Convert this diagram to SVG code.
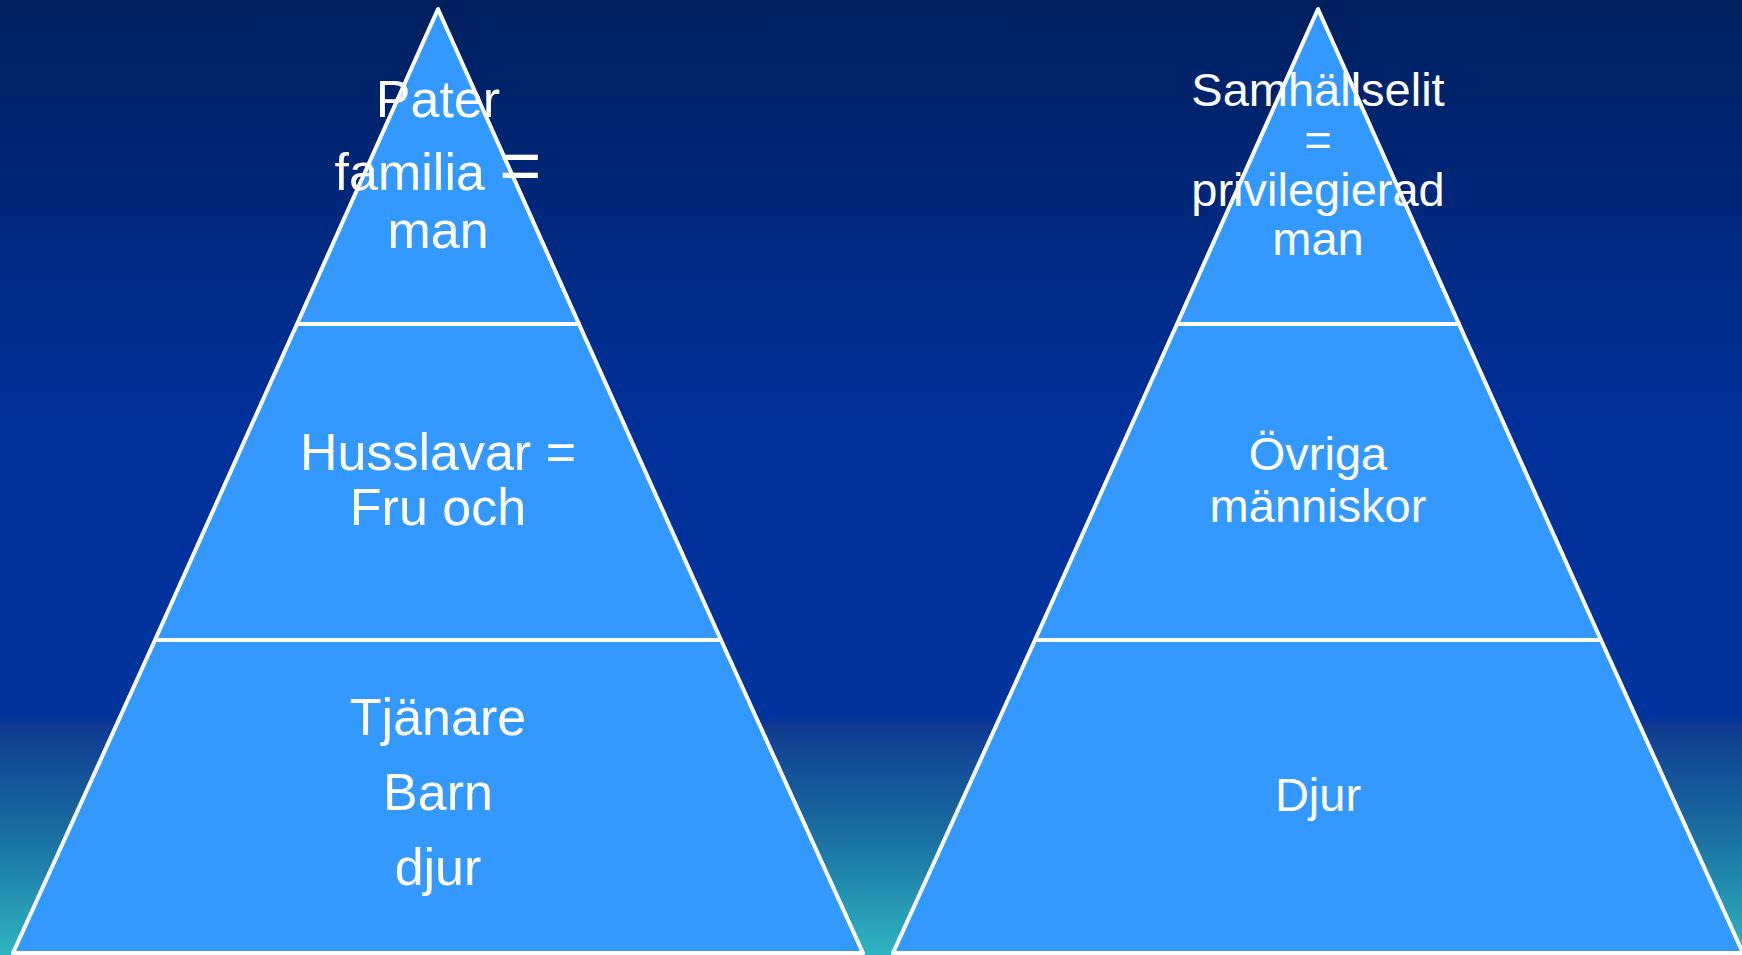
<svg xmlns="http://www.w3.org/2000/svg" width="1742" height="955" viewBox="0 0 1742 955">
  <defs>
    <linearGradient id="bg" x1="0" y1="0" x2="0" y2="1">
      <stop offset="0" stop-color="#001f5e"/>
      <stop offset="0.45" stop-color="#00309a"/>
      <stop offset="0.75" stop-color="#00339c"/>
      <stop offset="0.76" stop-color="#103a90"/>
      <stop offset="0.88" stop-color="#1a72a2"/>
      <stop offset="1" stop-color="#30b4c2"/>
    </linearGradient>
    <style>
      .tier { fill: #3399ff; stroke: #ffffff; stroke-width: 4; stroke-linejoin: round; }
      .lbl { fill: #ffffff; font-family: "Liberation Sans", Arial, sans-serif; text-anchor: middle; }
      .big { font-size: 52px; }
      .small { font-size: 47px; }
    </style>
  </defs>
  <rect x="0" y="0" width="1742" height="955" fill="url(#bg)"/>

  <g id="left-pyramid">
    <g id="left-top">
      <polygon class="tier" points="438,9 297,324 579,324"/>
      <text class="lbl big" x="438" y="117">Pater</text>
      <text class="lbl big" x="438" y="190">familia <tspan font-size="72">=</tspan></text>
      <text class="lbl big" x="438" y="248">man</text>
    </g>
    <g id="left-middle">
      <polygon class="tier" points="297,324 579,324 721,640 155,640"/>
      <text class="lbl big" x="438" y="470">Husslavar =</text>
      <text class="lbl big" x="438" y="525">Fru och</text>
    </g>
    <g id="left-bottom">
      <polygon class="tier" points="155,640 721,640 863,953 13,953"/>
      <text class="lbl big" x="438" y="735">Tjänare</text>
      <text class="lbl big" x="438" y="810">Barn</text>
      <text class="lbl big" x="438" y="885">djur</text>
    </g>
  </g>

  <g id="right-pyramid">
    <g id="right-top">
      <polygon class="tier" points="1318,9 1177,324 1459,324"/>
      <text class="lbl small" x="1318" y="106">Samhällselit</text>
      <text class="lbl small" x="1318" y="156">=</text>
      <text class="lbl small" x="1318" y="206">privilegierad</text>
      <text class="lbl small" x="1318" y="255">man</text>
    </g>
    <g id="right-middle">
      <polygon class="tier" points="1177,324 1459,324 1601,640 1035,640"/>
      <text class="lbl small" x="1318" y="470">Övriga</text>
      <text class="lbl small" x="1318" y="522">människor</text>
    </g>
    <g id="right-bottom">
      <polygon class="tier" points="1035,640 1601,640 1743,953 893,953"/>
      <text class="lbl small" x="1318" y="811">Djur</text>
    </g>
  </g>

  <g id="connectors"/>
</svg>
